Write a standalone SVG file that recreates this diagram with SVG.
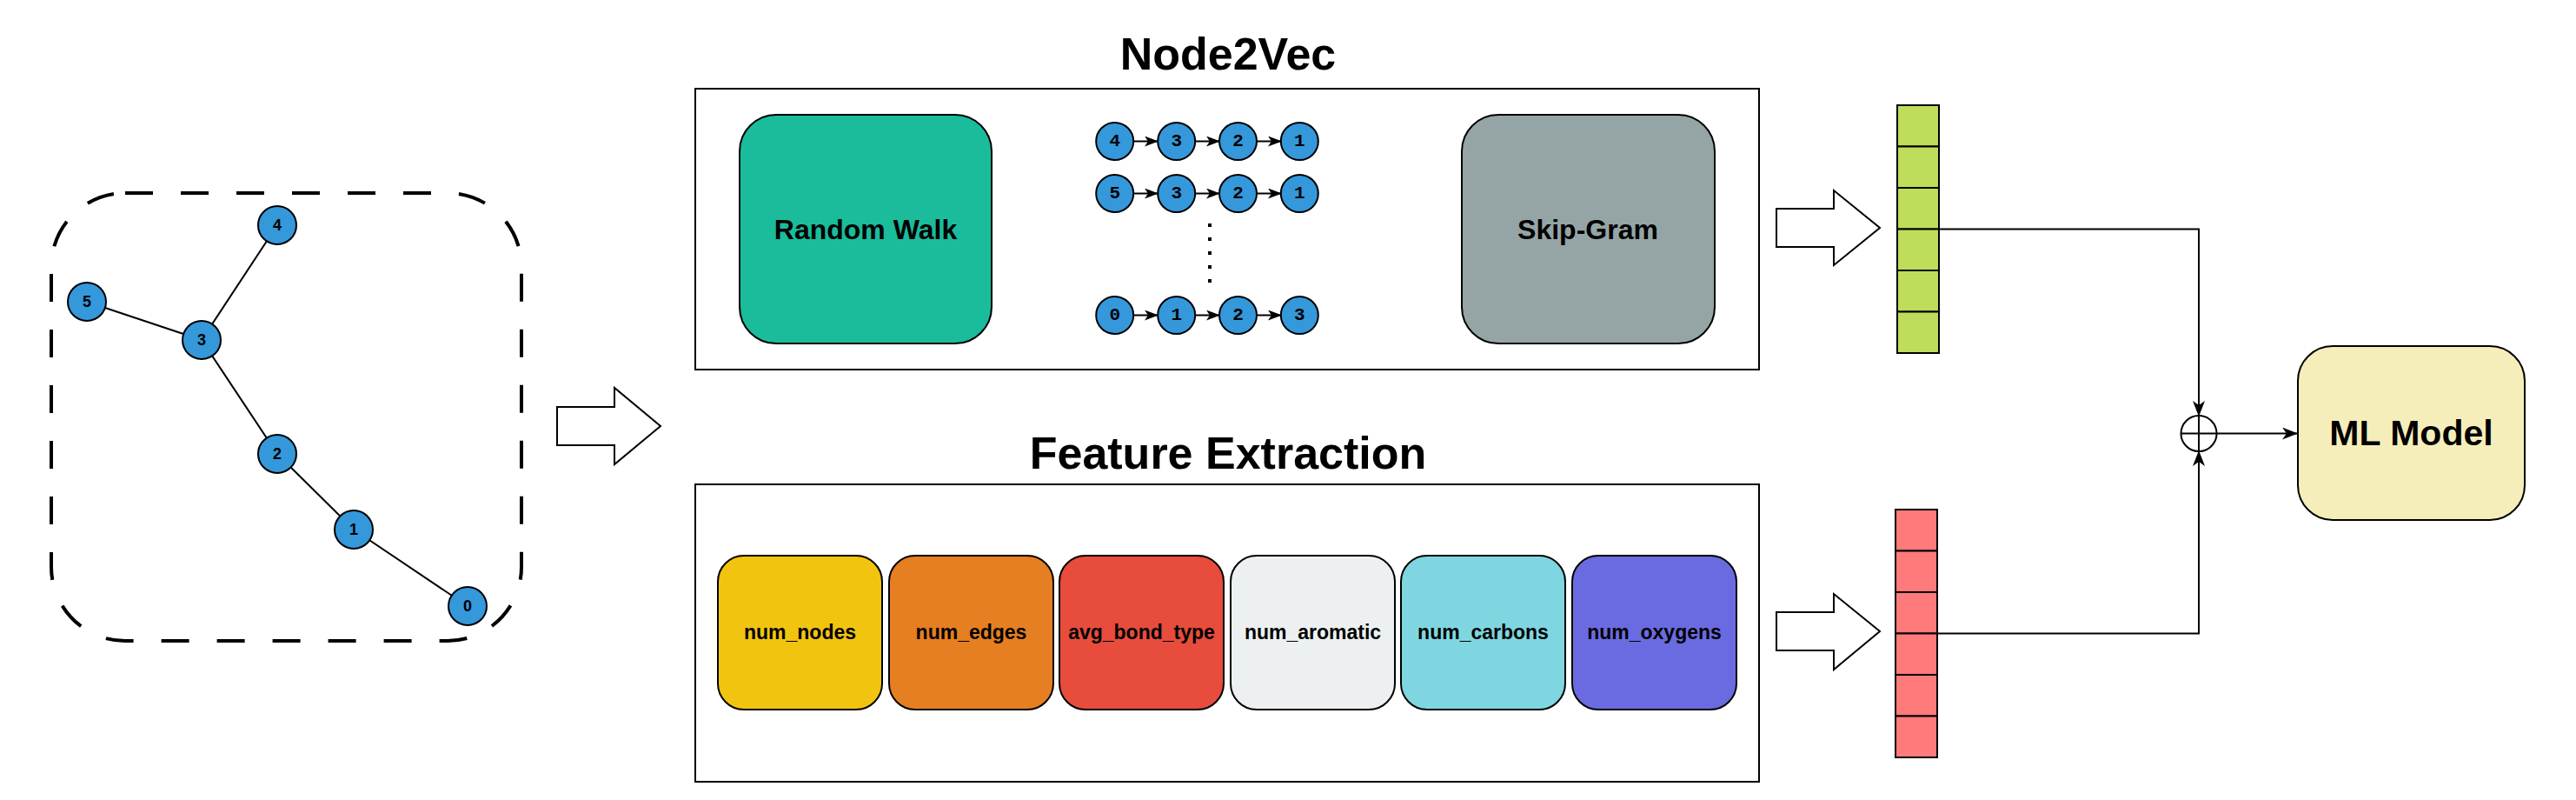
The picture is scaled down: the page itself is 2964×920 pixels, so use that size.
<svg xmlns="http://www.w3.org/2000/svg" width="2964" height="920" viewBox="0 0 2964 920">
<style>
.t{font-family:"Liberation Sans",Arial,sans-serif;font-weight:bold;fill:#000;text-anchor:middle;dominant-baseline:central}
.title{font-size:52px;dominant-baseline:auto}
.gn{fill:#3498DB;stroke:#000;stroke-width:2}
.gl{font-family:"Liberation Sans",Arial,sans-serif;font-weight:bold;font-size:18px;text-anchor:middle;dominant-baseline:central}
.wl{font-family:"Liberation Mono","Courier New",monospace;font-weight:bold;font-size:21px;text-anchor:middle;dominant-baseline:central}
.edge{stroke:#000;stroke-width:2;fill:none}
.hollow{fill:#fff;stroke:#000;stroke-width:2}
.frame{fill:#fff;stroke:#000;stroke-width:2}
.box{stroke:#000;stroke-width:2}
.fl{font-family:"Liberation Sans",Arial,sans-serif;font-weight:bold;font-size:23px;text-anchor:middle;dominant-baseline:central}
.cell{stroke:#000;stroke-width:2}
</style>
<defs>
<marker id="arr" viewBox="0 0 18 14" refX="17" refY="7" markerWidth="18" markerHeight="14" markerUnits="userSpaceOnUse" orient="auto">
<path d="M0,0 L18,7 L0,14 L5,7 Z" fill="#000"/>
</marker>
<marker id="arrs" viewBox="0 0 16 12" refX="15" refY="6" markerWidth="16" markerHeight="12" markerUnits="userSpaceOnUse" orient="auto">
<path d="M0,0 L16,6 L0,12 L4,6 Z" fill="#000"/>
</marker>
</defs>
<rect width="2964" height="920" fill="#fff"/>

<!-- input graph -->
<g id="graph">
<rect x="59" y="222" width="541" height="515" rx="85" ry="85" fill="none" stroke="#000" stroke-width="4" stroke-dasharray="32 32"/>
<g id="graph-edges">
<line class="edge" x1="319" y1="259" x2="232" y2="391"/>
<line class="edge" x1="100" y1="347" x2="232" y2="391"/>
<line class="edge" x1="232" y1="391" x2="319" y2="522"/>
<line class="edge" x1="319" y1="522" x2="407" y2="609"/>
<line class="edge" x1="407" y1="609" x2="538" y2="697"/>
</g>
<g id="g4"><circle class="gn" cx="319" cy="259" r="22"/><text class="gl" x="319" y="259">4</text></g>
<g id="g5"><circle class="gn" cx="100" cy="347" r="22"/><text class="gl" x="100" y="347">5</text></g>
<g id="g3"><circle class="gn" cx="232" cy="391" r="22"/><text class="gl" x="232" y="391">3</text></g>
<g id="g2"><circle class="gn" cx="319" cy="522" r="22"/><text class="gl" x="319" y="522">2</text></g>
<g id="g1"><circle class="gn" cx="407" cy="609" r="22"/><text class="gl" x="407" y="609">1</text></g>
<g id="g0"><circle class="gn" cx="538" cy="697" r="22"/><text class="gl" x="538" y="697">0</text></g>
</g>

<!-- big hollow arrows -->
<g id="hollow-arrows">
<polygon class="hollow" points="641,468 707,468 707,446 760,490 707,534 707,512 641,512"/>
<polygon class="hollow" points="1162,253 1203,253 1203,231 1241,264 1203,297 1203,275 1162,275"/>
<polygon class="hollow" points="1564,253 1605,253 1605,231 1643,264 1605,297 1605,275 1564,275"/>
<polygon class="hollow" points="2044,240 2110,240 2110,219 2163,262 2110,305 2110,284 2044,284"/>
<polygon class="hollow" points="2044,704 2110,704 2110,683 2163,726 2110,770 2110,748 2044,748"/>
</g>

<!-- Node2Vec -->
<g id="node2vec">
<text class="t title" x="1413" y="80">Node2Vec</text>
<rect class="frame" x="800" y="102" width="1224" height="323"/>
</g>
<g id="random-walk">
<rect class="box" x="851" y="132" width="290" height="263" rx="42" ry="42" fill="#1ABC9C"/>
<text class="t" x="996" y="264" font-size="32">Random Walk</text>
</g>
<g id="skip-gram">
<rect class="box" x="1682" y="132" width="291" height="263" rx="42" ry="42" fill="#95A5A6"/>
<text class="t" x="1827" y="264" font-size="32">Skip-Gram</text>
</g>

<!-- walks -->
<g id="walk-arrows">
<line class="edge" x1="1304" y1="162.5" x2="1332" y2="162.5" marker-end="url(#arrs)"/>
<line class="edge" x1="1375" y1="162.5" x2="1403" y2="162.5" marker-end="url(#arrs)"/>
<line class="edge" x1="1446" y1="162.5" x2="1474" y2="162.5" marker-end="url(#arrs)"/>
<line class="edge" x1="1304" y1="222.5" x2="1332" y2="222.5" marker-end="url(#arrs)"/>
<line class="edge" x1="1375" y1="222.5" x2="1403" y2="222.5" marker-end="url(#arrs)"/>
<line class="edge" x1="1446" y1="222.5" x2="1474" y2="222.5" marker-end="url(#arrs)"/>
<line class="edge" x1="1304" y1="362.5" x2="1332" y2="362.5" marker-end="url(#arrs)"/>
<line class="edge" x1="1375" y1="362.5" x2="1403" y2="362.5" marker-end="url(#arrs)"/>
<line class="edge" x1="1446" y1="362.5" x2="1474" y2="362.5" marker-end="url(#arrs)"/>
<line x1="1392" y1="257" x2="1392" y2="326" stroke="#000" stroke-width="4" stroke-dasharray="4 12"/>
</g>
<g id="walk1">
<circle class="gn" cx="1282.7" cy="162.5" r="21.5"/><text class="wl" x="1282.7" y="162.5">4</text>
<circle class="gn" cx="1353.7" cy="162.5" r="21.5"/><text class="wl" x="1353.7" y="162.5">3</text>
<circle class="gn" cx="1424.5" cy="162.5" r="21.5"/><text class="wl" x="1424.5" y="162.5">2</text>
<circle class="gn" cx="1495.3" cy="162.5" r="21.5"/><text class="wl" x="1495.3" y="162.5">1</text>
</g>
<g id="walk2">
<circle class="gn" cx="1282.7" cy="222.5" r="21.5"/><text class="wl" x="1282.7" y="222.5">5</text>
<circle class="gn" cx="1353.7" cy="222.5" r="21.5"/><text class="wl" x="1353.7" y="222.5">3</text>
<circle class="gn" cx="1424.5" cy="222.5" r="21.5"/><text class="wl" x="1424.5" y="222.5">2</text>
<circle class="gn" cx="1495.3" cy="222.5" r="21.5"/><text class="wl" x="1495.3" y="222.5">1</text>
</g>
<g id="walk3">
<circle class="gn" cx="1282.7" cy="362.5" r="21.5"/><text class="wl" x="1282.7" y="362.5">0</text>
<circle class="gn" cx="1353.7" cy="362.5" r="21.5"/><text class="wl" x="1353.7" y="362.5">1</text>
<circle class="gn" cx="1424.5" cy="362.5" r="21.5"/><text class="wl" x="1424.5" y="362.5">2</text>
<circle class="gn" cx="1495.3" cy="362.5" r="21.5"/><text class="wl" x="1495.3" y="362.5">3</text>
</g>

<!-- Feature Extraction -->
<g id="feature-extraction">
<text class="t title" x="1413" y="539">Feature Extraction</text>
<rect class="frame" x="800" y="557" width="1224" height="342"/>
</g>
<g id="f-num_nodes"><rect class="box" x="826" y="639" width="189" height="177" rx="30" fill="#F1C40F"/><text class="fl" x="920.5" y="727">num_nodes</text></g>
<g id="f-num_edges"><rect class="box" x="1023" y="639" width="189" height="177" rx="30" fill="#E67E22"/><text class="fl" x="1117.5" y="727">num_edges</text></g>
<g id="f-avg_bond_type"><rect class="box" x="1219" y="639" width="189" height="177" rx="30" fill="#E74C3C"/><text class="fl" x="1313.5" y="727">avg_bond_type</text></g>
<g id="f-num_aromatic"><rect class="box" x="1416" y="639" width="189" height="177" rx="30" fill="#ECF0F1"/><text class="fl" x="1510.5" y="727">num_aromatic</text></g>
<g id="f-num_carbons"><rect class="box" x="1612" y="639" width="189" height="177" rx="30" fill="#7FD6E0"/><text class="fl" x="1706.5" y="727">num_carbons</text></g>
<g id="f-num_oxygens"><rect class="box" x="1809" y="639" width="189" height="177" rx="30" fill="#6A6BE0"/><text class="fl" x="1903.5" y="727">num_oxygens</text></g>

<!-- vectors -->
<g id="vec-green">
<rect class="cell" x="2183" y="121" width="48" height="47.5" fill="#BEDD5A"/>
<rect class="cell" x="2183" y="168.5" width="48" height="47.5" fill="#BEDD5A"/>
<rect class="cell" x="2183" y="216" width="48" height="47.5" fill="#BEDD5A"/>
<rect class="cell" x="2183" y="263.5" width="48" height="47.5" fill="#BEDD5A"/>
<rect class="cell" x="2183" y="311" width="48" height="47.5" fill="#BEDD5A"/>
<rect class="cell" x="2183" y="358.5" width="48" height="47.5" fill="#BEDD5A"/>
</g>
<g id="vec-red">
<rect class="cell" x="2181" y="586" width="48" height="47.5" fill="#FF7A7A"/>
<rect class="cell" x="2181" y="633.5" width="48" height="47.5" fill="#FF7A7A"/>
<rect class="cell" x="2181" y="681" width="48" height="47.5" fill="#FF7A7A"/>
<rect class="cell" x="2181" y="728.5" width="48" height="47.5" fill="#FF7A7A"/>
<rect class="cell" x="2181" y="776" width="48" height="47.5" fill="#FF7A7A"/>
<rect class="cell" x="2181" y="823.5" width="48" height="47.5" fill="#FF7A7A"/>
</g>

<!-- connectors -->
<g id="connectors">
<path class="edge" d="M2231,263.5 H2530 V478" marker-end="url(#arr)"/>
<path class="edge" d="M2229,728.5 H2530 V519" marker-end="url(#arr)"/>
<path class="edge" d="M2551,498.5 H2643" marker-end="url(#arr)"/>
</g>

<g id="concat">
<circle cx="2530" cy="498.5" r="20.5" fill="#fff" stroke="#000" stroke-width="2"/>
<line class="edge" x1="2509.5" y1="498.5" x2="2550.5" y2="498.5"/>
<line class="edge" x1="2530" y1="478" x2="2530" y2="519"/>
</g>

<g id="ml-model">
<rect class="box" x="2644" y="398" width="261" height="200" rx="40" ry="40" fill="#F6EEBA"/>
<text class="t" x="2774.5" y="498" font-size="41">ML Model</text>
</g>
</svg>
